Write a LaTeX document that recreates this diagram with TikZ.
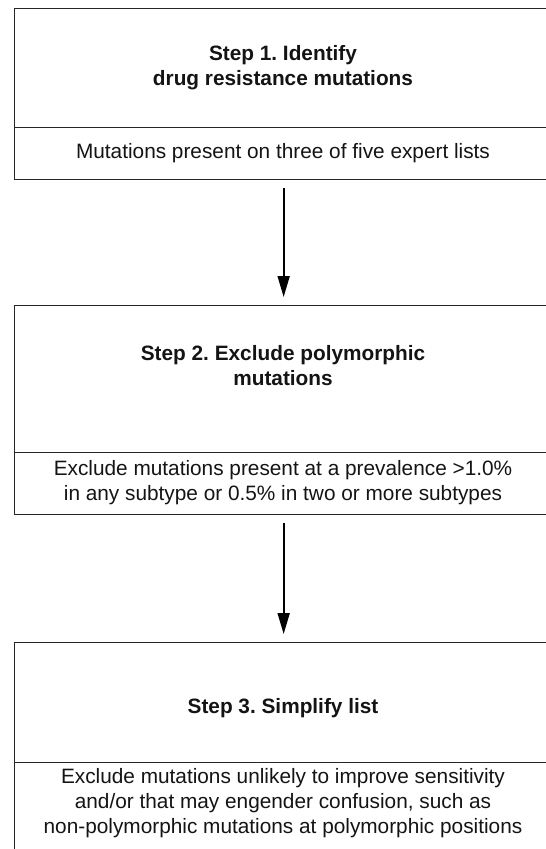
\documentclass[tikz,border=0pt]{standalone}
\usepackage{fontspec}
\setmainfont{Liberation Sans}
\usetikzlibrary{arrows.meta}
\frenchspacing
\begin{document}
\begin{tikzpicture}[x=1pt,y=-1pt,
  section/.style={draw=black!85, line width=1.3pt, rectangle, inner sep=0pt, anchor=north west, minimum width=538pt},
  titletext/.style={font=\fontsize{20.8}{25}\selectfont\bfseries, align=center, text=black!92, inner sep=0pt},
  bodytext/.style={font=\fontsize{20.8}{25}\selectfont, align=center, text=black!92, inner sep=0pt},
  flow/.style={-{Triangle[length=21pt,width=12pt]}, line width=1.8pt, shorten <=8pt, shorten >=8pt}]
\useasboundingbox (0,0) rectangle (546,849);
\begin{scope}
\clip (0,0) rectangle (546,849);
\node[section, minimum height=119pt] (s1t) at (14,8) {};
\node[section, minimum height=52pt] (s1d) at (14,127) {};
\node[section, minimum height=147pt] (s2t) at (14,305) {};
\node[section, minimum height=62pt] (s2d) at (14,452) {};
\node[section, minimum height=120pt] (s3t) at (14,642) {};
\node[section, minimum height=110pt] (s3d) at (14,762) {};
\end{scope}
\node[titletext] (t1) at (283,68) {Step 1. Identify\\drug resistance mutations};
\node[bodytext] (d1) at (283,153) {Mutations present on three of five expert lists};
\node[titletext] (t2) at (283,366) {Step 2. Exclude polymorphic\\mutations};
\node[bodytext] (d2) at (283,483) {Exclude mutations present at a prevalence >1.0\%\\in any subtype or 0.5\% in two or more subtypes};
\node[titletext] (t3) at (283,708) {Step 3. Simplify list};
\node[bodytext] (d3) at (283,803) {Exclude mutations unlikely to improve sensitivity\\and/or that may engender confusion, such as\\non-polymorphic mutations at polymorphic positions};
\draw[flow] (s1d.south) -- (s2t.north);
\draw[flow] (s2d.south) -- (s3t.north);
\end{tikzpicture}
\end{document}
